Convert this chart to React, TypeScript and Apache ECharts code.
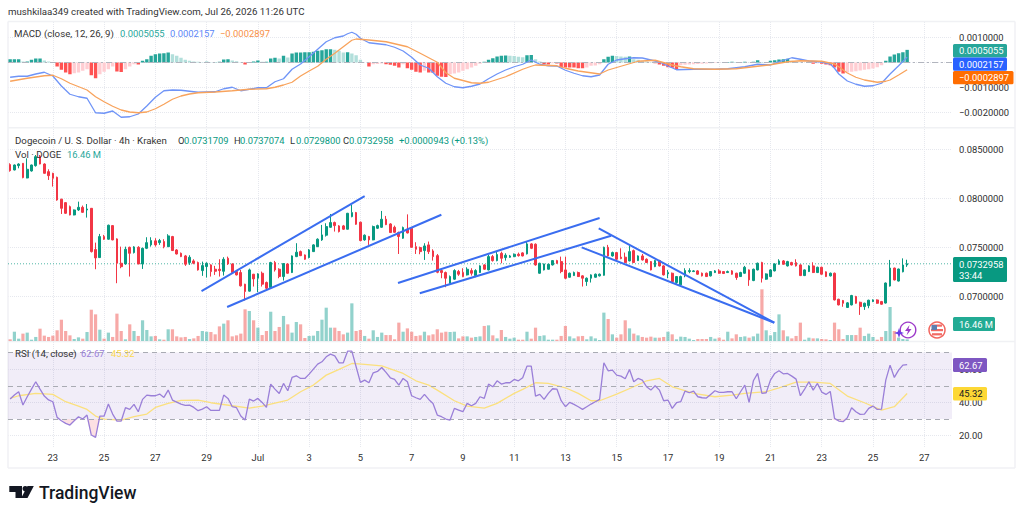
import React, { useEffect, useRef } from "react";
import * as echarts from "echarts";

const FONT = "Roboto, 'Noto Sans', sans-serif";
const PRICE_UNIT = 1e-5;
const MACD_UNIT = 1e-5;
const SLOT_COUNT = 221;

const dayLabels = ["23","25","27","29","Jul","3","5","7","9","11","13","15","17","19","21","23","25","27"];
const FIRST_LABEL_SLOT = 10;
const LABEL_STEP = 12;

// open, close, low, high in units of 0.00001 USD; one row per 4h candle
const candles = [
[8344,8282,8272,8357],[8289,8340,8285,8345],[8333,8350,8306,8357],[8357,8211,8204,8360],[8207,8296,8204,8408],[8279,8340,8272,8344],[8333,8425,8323,8442],[8432,8350,8347,8442],[8350,8255,8252,8357],[8272,8231,8187,8296],
[8255,8204,8119,8260],[8214,7982,7975,8221],[7990,7897,7839,7995],[7955,7846,7840,7960],[7914,7829,7825,7925],[7829,7880,7825,7885],[7880,7907,7870,7965],[7907,7856,7850,7925],[7880,7890,7802,7941],[7897,7454,7445,7900],
[7475,7390,7274,7546],[7393,7608,7390,7635],[7608,7581,7574,7625],[7581,7724,7575,7730],[7720,7574,7570,7725],[7584,7335,7131,7590],[7335,7300,7284,7505],[7328,7478,7320,7505],[7498,7437,7199,7505],[7444,7502,7435,7510],
[7498,7328,7325,7510],[7328,7488,7277,7495],[7488,7546,7480,7601],[7523,7567,7505,7601],[7564,7523,7505,7591],[7546,7567,7523,7584],[7557,7505,7488,7581],[7505,7615,7500,7632],[7608,7465,7460,7615],[7471,7430,7425,7480],
[7437,7403,7398,7445],[7410,7325,7308,7420],[7342,7396,7318,7417],[7359,7335,7325,7376],[7342,7267,7260,7352],[7260,7311,7206,7352],[7301,7335,7189,7345],[7318,7250,7199,7325],[7274,7253,7216,7308],[7274,7260,7199,7376],
[7253,7376,7209,7397],[7386,7328,7318,7403],[7328,7240,7226,7335],[7250,7216,7210,7255],[7240,7104,7097,7267],[7121,7046,6954,7125],[7050,7267,7045,7280],[7223,7175,7097,7226],[7182,7226,7039,7233],[7233,7121,7097,7250],
[7138,7080,7070,7148],[7087,7342,7082,7350],[7342,7267,7250,7359],[7274,7199,7182,7284],[7199,7332,7158,7335],[7328,7233,7228,7335],[7240,7410,7235,7415],[7403,7448,7398,7540],[7454,7413,7408,7465],[7420,7376,7370,7425],
[7393,7471,7385,7480],[7454,7523,7450,7530],[7505,7581,7500,7590],[7574,7625,7564,7727],[7622,7710,7608,7744],[7703,7751,7698,7839],[7751,7720,7659,7761],[7717,7659,7650,7725],[7717,7683,7675,7727],[7683,7846,7680,7850],
[7812,7853,7805,7931],[7853,7734,7728,7860],[7755,7567,7560,7760],[7574,7622,7565,7630],[7608,7574,7523,7615],[7574,7710,7570,7720],[7693,7720,7685,7730],[7703,7785,7698,7870],[7785,7730,7725,7819],[7737,7649,7645,7745],
[7703,7652,7648,7720],[7649,7608,7430,7659],[7591,7700,7585,7710],[7683,7645,7640,7835],[7693,7498,7495,7700],[7505,7478,7430,7550],[7495,7454,7427,7505],[7465,7512,7369,7540],[7523,7454,7430,7557],[7461,7403,7362,7478],
[7413,7243,7233,7430],[7260,7240,7182,7274],[7240,7182,7090,7250],[7131,7199,7125,7210],[7172,7260,7165,7274],[7250,7223,7206,7267],[7240,7199,7192,7284],[7216,7274,7210,7294],[7260,7233,7209,7284],[7209,7260,7192,7274],
[7240,7308,7235,7315],[7318,7274,7268,7325],[7267,7403,7262,7420],[7403,7362,7352,7420],[7362,7424,7355,7454],[7437,7386,7335,7454],[7393,7417,7362,7437],[7396,7410,7390,7420],[7403,7427,7398,7435],[7427,7413,7403,7444],
[7441,7410,7405,7448],[7431,7533,7425,7557],[7533,7488,7480,7540],[7530,7318,7310,7538],[7233,7335,7228,7340],[7267,7328,7262,7332],[7274,7325,7270,7330],[7318,7362,7312,7367],[7362,7335,7330,7370],[7352,7250,7233,7403],
[7267,7182,7172,7403],[7192,7233,7188,7240],[7209,7240,7205,7250],[7240,7199,7195,7250],[7206,7182,7097,7212],[7148,7182,7104,7190],[7182,7216,7138,7222],[7192,7223,7188,7230],[7206,7223,7200,7230],[7212,7498,7208,7505],
[7498,7410,7403,7523],[7410,7444,7403,7454],[7444,7376,7370,7450],[7397,7383,7376,7488],[7397,7342,7340,7444],[7359,7454,7355,7516],[7464,7342,7338,7475],[7362,7410,7358,7416],[7410,7369,7363,7430],[7376,7342,7338,7385],
[7352,7267,7262,7358],[7301,7362,7295,7368],[7362,7308,7302,7370],[7308,7216,7210,7315],[7226,7240,7182,7267],[7233,7148,7140,7240],[7138,7199,7125,7205],[7114,7199,7110,7209],[7206,7260,7192,7284],[7250,7260,7233,7284],
[7250,7257,7245,7265],[7257,7223,7218,7265],[7233,7206,7200,7240],[7233,7199,7195,7240],[7206,7250,7200,7255],[7240,7257,7235,7265],[7257,7233,7228,7274],[7250,7230,7225,7255],[7240,7250,7235,7260],[7257,7223,7218,7265],
[7233,7189,7165,7238],[7199,7240,7195,7248],[7233,7294,7228,7308],[7267,7165,7104,7272],[7158,7274,7152,7280],[7267,7335,7262,7342],[7342,7182,7138,7350],[7172,7226,7166,7232],[7199,7267,7194,7275],[7257,7328,7252,7335],
[7325,7359,7320,7376],[7359,7325,7320,7368],[7308,7352,7302,7360],[7342,7318,7312,7350],[7342,7308,7302,7376],[7318,7209,7204,7325],[7209,7267,7204,7272],[7250,7308,7245,7315],[7308,7240,7235,7345],[7240,7294,7235,7300],
[7294,7223,7218,7300],[7247,7199,7194,7252],[7206,7233,7200,7240],[7233,6960,6955,7240],[6967,6909,6904,6972],[6954,6926,6890,6960],[6883,6930,6878,6938],[6909,7005,6904,7012],[6995,6926,6921,7002],[6936,6892,6807,6942],
[6892,6926,6858,6932],[6902,6957,6875,6962],[6943,6960,6938,6966],[6960,6926,6921,6966],[6943,6916,6911,6950],[6928,7133,6923,7138],[7102,7286,7097,7369],[7286,7164,7160,7290],[7153,7276,7148,7280],[7248,7317,7242,7385],
[7317,7330,7298,7371],
];

// volume in millions of DOGE
const volumes = [
17,92,23,73,83,13,40,122,53,40,
53,106,211,99,56,20,36,23,89,310,
264,112,23,83,40,271,99,17,165,99,
50,205,109,46,50,17,13,116,116,46,
36,40,20,26,50,99,92,89,66,145,
172,205,46,56,73,314,297,205,132,59,
99,290,99,139,248,165,83,188,165,30,
50,53,99,211,330,132,132,99,66,83,
373,99,109,50,23,106,40,83,59,59,
17,182,92,125,92,50,56,92,56,66,
116,83,92,89,92,26,46,46,33,40,
46,149,155,56,26,109,40,23,33,13,
13,92,23,132,50,56,13,13,13,50,
149,46,26,46,50,17,46,26,10,281,
218,66,33,66,205,125,73,56,40,33,
43,33,33,40,92,66,17,43,40,23,
10,20,20,20,40,23,33,13,92,26,
66,40,46,33,46,73,512,106,56,89,
264,106,46,26,50,182,13,33,26,26,
20,17,10,182,116,20,59,59,59,132,
50,73,40,13,40,99,337,99,33,20,16.46,
];
const VOLUME_AXIS_MAX = 2100;

// MACD histogram, units of 0.00001
const macdHist = [
13,13,13,4,4,11,16,16,8,4,
0,-16,-29,-40,-47,-43,-40,-33,-27,-51,
-63,-47,-37,-27,-16,-36,-38,-27,-16,-7,
-8,7,13,27,33,36,37,40,33,27,
19,11,7,4,3,1,3,1,1,3,
12,13,8,5,1,-8,-1,4,8,3,
3,16,19,16,27,20,36,40,40,41,
41,43,47,49,53,53,51,47,40,41,
36,29,11,0,-16,-7,-6,-4,-7,-9,
-13,-20,-7,-23,-29,-37,-40,-33,-40,-41,
-53,-57,-58,-47,-44,-40,-33,-27,-20,-13,
-5,3,11,17,24,27,28,27,26,23,
21,29,30,13,4,-7,-8,-3,-4,-20,
-20,-20,-20,-23,-23,-20,-13,-12,-7,13,
23,27,26,24,23,24,13,11,7,4,
1,-3,-8,-13,-19,-21,-27,-11,-9,-8,
-7,-6,-5,-4,-3,-2,-1,1,2,3,
2,1,3,1,3,9,2,1,7,9,
12,13,15,7,4,1,0,-1,-5,-3,
-5,-8,-11,-20,-37,-44,-40,-37,-35,-32,
-29,-27,-24,-19,-11,7,24,32,37,41,50.55,
];

// [candle index, value in 0.00001]
const macdPoints = [
[0,-59],[2,-55],[4,-55],[6,-46],[8,-39],[10,-54],[12,-94],[14,-127],[16,-137],[18,-143],[20,-201],[22,-203],[24,-194],[26,-219],[28,-217],[30,-206],[32,-174],[34,-139],[36,-113],[38,-110],[40,-111],[42,-115],[44,-119],[46,-118],[48,-117],[50,-105],[52,-99],[54,-113],[56,-107],[58,-101],[60,-101],[62,-77],[64,-65],[66,-27],[68,-6],[70,23],[72,53],[74,83],[76,99],[78,106],[79,115],[80,121],[81,113],[82,97],[84,79],[86,75],[88,71],[90,61],[92,46],[94,21],[96,-10],[98,-23],[100,-57],[102,-83],[104,-97],[106,-101],[108,-95],[110,-86],[112,-65],[114,-46],[116,-30],[118,-17],[120,-7],[122,10],[124,-7],[126,-13],[128,-14],[130,-31],[132,-43],[134,-53],[136,-57],[138,-50],[140,-7],[142,10],[144,15],[146,19],[148,18],[150,10],[152,2],[154,-14],[156,-29],[160,-27],[165,-27],[168,-25],[172,-17],[175,-7],[178,-10],[180,3],[183,19],[185,13],[187,6],[190,2],[192,-6],[193,-23],[194,-46],[196,-74],[198,-87],[200,-95],[202,-93],[204,-83],[206,-46],[208,-13],[210,21.57],
];
const signalPoints = [
[0,-75],[4,-63],[8,-53],[10,-51],[12,-65],[14,-83],[18,-110],[20,-137],[22,-157],[24,-175],[26,-190],[28,-198],[30,-201],[32,-198],[34,-185],[36,-167],[38,-147],[40,-134],[42,-126],[44,-121],[48,-118],[52,-113],[56,-107],[60,-105],[62,-99],[64,-90],[66,-79],[68,-54],[70,-34],[72,-15],[74,13],[76,37],[78,63],[80,89],[81,94],[84,90],[88,83],[93,63],[96,37],[100,1],[102,-41],[104,-63],[108,-81],[110,-83],[112,-79],[116,-57],[120,-27],[122,-15],[123,-10],[128,-13],[130,-23],[133,-34],[138,-46],[140,-30],[144,-10],[147,5],[151,9],[155,-10],[157,-17],[160,-25],[165,-27],[170,-25],[175,-15],[178,-9],[182,3],[185,7],[190,5],[193,-6],[194,-17],[196,-42],[198,-59],[200,-70],[203,-79],[205,-75],[206,-70],[208,-50],[210,-28.97],
];

const rsiValues = [
42,44.4,46.4,38.4,43.4,48,52.4,48,43.8,41.5,
40.4,31,29,27.4,26.4,29,31.4,30,32.4,20.4,
19,31.8,31.8,39,33,28.8,28.8,36.8,35.8,38.8,
34.4,41.8,44.4,44,44,45,43,47.4,41.4,40.2,
39,38.2,38.4,37,35,36,37.4,35.2,35.2,35.2,
44.4,42.4,37.4,36.8,31.8,29.4,42,40.8,42.4,40,
37,51,48,45.4,51.4,47,55,56,54.4,54.4,
57,60,63,64.4,67.4,69,68,63.8,63.8,70.8,
70.8,61.4,52,53.4,51.8,57.8,58.6,61,58,54.8,
53.8,50.4,54.4,52.4,44,42.8,41.8,44.8,41.8,39.4,
32.4,31.4,30,29.4,36.4,35.4,34.4,39.4,38,39.4,
43.4,42.4,51,49.4,53,51,51.8,51.8,53.8,53,
54.8,61.8,61.8,43.8,44.8,41.8,45.4,48.2,48,41,
37.4,40,38.8,37.4,35.8,37.4,39,40.4,41.8,63.8,
59,59.4,56.4,55.8,54.2,59.8,52.4,54.4,53.4,49.4,
47.4,50,47.4,41,41.4,36.4,39.8,40.4,46.8,45.8,
46.8,43.4,42.8,42.6,44.8,47,46,46,46.4,46.4,
42.2,46.4,50.4,40,53,57.4,45.4,45.8,53.4,57.4,
59,57.2,57.4,55.8,54,44,48,52.4,47.4,51.4,
46.2,44.8,46.6,30.4,28.8,28.4,30.8,36.8,34.4,32.8,
33,36.4,37.8,35.8,36,53.4,62.4,55,59.4,62.4,62.67,
];
const rsiMaPoints = [
[0,42.4],[2,44],[6,45.4],[10,44.8],[13,40.4],[16,37.8],[18,35.8],[20,31.8],[22,30],[26,29.4],[29,31.4],[32,33],[34,37],[37,39.4],[40,41.2],[44,41.4],[47,39.8],[52,38],[56,36.6],[59,37.8],[65,41.4],[68,46.4],[71,50.4],[74,56.4],[77,59.8],[80,63.4],[83,62.8],[87,62],[92,57.4],[95,53],[98,50.4],[100,47.4],[104,41],[107,37.8],[111,36.6],[114,39.4],[118,45.4],[120,47.8],[123,51.8],[126,51.4],[130,48.8],[133,45.4],[136,41],[138,41],[142,45],[146,49.4],[149,53],[152,54.4],[155,49.4],[157,47.8],[160,45.4],[165,43.4],[169,44.4],[172,45.4],[177,46.4],[180,48.8],[184,52.2],[188,52.2],[192,51.4],[196,43.8],[200,39.8],[204,35.4],[207,37.4],[210,45.32],
];
const rsiDips = [
[[12,30],[13,27.4],[14,26.4],[15,29],[16,30]],
[[18,30],[19,20.4],[20,19],[21,30]],
[[192,30],[194,28.8],[195,28.4],[196,30]],
];

// trend lines drawn on the chart: [candle position, price]
const trendLines = [
[[44.8,0.07051],[83.0,0.08022]],
[[50.8,0.06888],[100.95,0.07831]],
[[90.8,0.07133],[138,0.07798]],
[[95.9,0.07028],[140.7,0.07617]],
[[137.8,0.07692],[178.9,0.06727]],
[[133.8,0.07498],[178.9,0.06727]],
];

const LAST_PRICE = 0.0732958;
const macdTicks = [0.001, 0, -0.001, -0.002];
const macdLabels = [0.001, -0.001, -0.002];
const priceTicks = [0.07, 0.075, 0.08, 0.085];
const rsiTicks = [20, 40, 60, 80];
const rsiLabels = [20, 40, 60];

const UP = "#089981";
const DOWN = "#f23645";
const GRID = "#e6e8ee";
const NUM = 9.4;
const TXT = 9.7;

const isLabelSlot = (i: number) => i >= FIRST_LABEL_SLOT && (i - FIRST_LABEL_SLOT) % LABEL_STEP === 0;

function histColor(v: number, i: number) {
  const p = i > 0 ? macdHist[i - 1] : 0;
  if (v >= 0) return v >= p ? "#26a69a" : "#b2dfdb";
  return v <= p ? "#ff5252" : "#ffcdd2";
}

const txt = (x: number, y: number, text: string, fill: string, size = NUM, weight: any = "normal", align = "left") => ({
  type: "text",
  z: 100,
  silent: true,
  style: { x, y, text, fill, fontFamily: FONT, fontSize: size, fontWeight: weight, align, verticalAlign: "middle" },
});
const tag = (x: number, y: number, w: number, h: number, fill: string) => ({
  type: "rect", z: 99, silent: true, shape: { x, y, width: w, height: h, r: 1.5 }, style: { fill },
});
const hline = (x1: number, y1: number, x2: number, y2: number) => ({
  type: "line", z: 1, silent: true, shape: { x1, y1, x2, y2 }, style: { stroke: "#f0f1f4", lineWidth: 1.5 },
});

function buildOption(): any {
  const categories = Array.from({ length: SLOT_COUNT }, (_, i) => String(i));
  const xBase = (gridIndex: number, showLabel: boolean) => ({
    type: "category",
    gridIndex,
    data: categories,
    boundaryGap: true,
    axisLine: { show: false },
    axisTick: { show: false },
    axisLabel: {
      show: showLabel,
      interval: (i: number) => isLabelSlot(i),
      formatter: (v: string) => dayLabels[(Number(v) - FIRST_LABEL_SLOT) / LABEL_STEP] ?? "",
      color: "#2e2e2e",
      fontFamily: FONT,
      fontSize: NUM,
      margin: 6,
    },
    splitLine: {
      show: true,
      alignWithLabel: true,
      interval: (i: number) => isLabelSlot(i),
      lineStyle: { color: GRID, type: "dotted" },
    },
  });
  const yBase = (gridIndex: number, min: number, max: number, ticks: number[], labels: number[], fmt: (v: number) => string) => ({
    type: "value",
    gridIndex,
    position: "right",
    min,
    max,
    axisLine: { show: false },
    axisTick: { show: false, customValues: ticks },
    axisLabel: { customValues: labels, formatter: fmt, color: "#2e2e2e", fontFamily: FONT, fontSize: NUM, margin: 7 },
    splitLine: { show: true, lineStyle: { color: GRID, type: "dotted" } },
  });
  const dec7 = (v: number) => (v < 0 ? "\u2212" : "") + Math.abs(v).toFixed(7);

  const series: any[] = [
    {
      type: "bar", name: "Histogram", xAxisIndex: 0, yAxisIndex: 0, barWidth: 3.4,
      data: macdHist.map((v, i) => ({ value: v * MACD_UNIT, itemStyle: { color: histColor(v, i) } })),
      markLine: {
        silent: true, symbol: "none", label: { show: false },
        lineStyle: { color: "#b2b5be", type: [6, 3, 2, 3], width: 1 },
        data: [{ yAxis: 0 }],
      },
    },
    {
      type: "line", name: "MACD", xAxisIndex: 0, yAxisIndex: 0, showSymbol: false, z: 5,
      lineStyle: { color: "#6f94f7", width: 1.3 },
      data: macdPoints.map(([i, v]) => [i, v * MACD_UNIT]),
    },
    {
      type: "line", name: "Signal", xAxisIndex: 0, yAxisIndex: 0, showSymbol: false, z: 5,
      lineStyle: { color: "#f8a35c", width: 1.3 },
      data: signalPoints.map(([i, v]) => [i, v * MACD_UNIT]),
    },
    {
      type: "bar", name: "Volume", xAxisIndex: 1, yAxisIndex: 2, barWidth: 3.2, z: 1,
      data: volumes.map((v, i) => ({
        value: v,
        itemStyle: { color: candles[i][1] >= candles[i][0] ? "rgba(38,166,154,0.5)" : "rgba(239,83,80,0.5)" },
      })),
    },
    {
      type: "line", name: "Last price", xAxisIndex: 3, yAxisIndex: 1, showSymbol: false, z: 2,
      lineStyle: { color: "#089981", type: [1, 2], width: 1, opacity: 0.7 },
      data: [[-0.5, LAST_PRICE], [SLOT_COUNT - 0.5, LAST_PRICE]],
    },
    {
      type: "candlestick", name: "DOGEUSD", xAxisIndex: 1, yAxisIndex: 1, barWidth: 2.2, z: 3,
      itemStyle: { color: UP, color0: DOWN, borderColor: UP, borderColor0: DOWN, borderWidth: 1 },
      data: candles.map((c) => c.map((v) => v * PRICE_UNIT)),
    },
    ...trendLines.map((t, k) => ({
      type: "line", name: "Trend " + (k + 1), xAxisIndex: 3, yAxisIndex: 1, showSymbol: false, z: 6,
      lineStyle: { color: "#3a6df0", width: 2 },
      data: t,
    })),
    ...rsiDips.map((d, k) => ({
      type: "line", name: "Oversold " + (k + 1), xAxisIndex: 2, yAxisIndex: 3, showSymbol: false, z: 2,
      lineStyle: { width: 0 },
      areaStyle: { origin: 30, color: "rgba(242,54,69,0.22)" },
      data: d,
    })),
    {
      type: "line", name: "RSI", xAxisIndex: 2, yAxisIndex: 3, showSymbol: false, z: 5,
      lineStyle: { color: "#9a7fd8", width: 1.3 },
      data: rsiValues,
      markArea: { silent: true, itemStyle: { color: "rgba(126,87,194,0.11)" }, data: [[{ yAxis: 30 }, { yAxis: 70 }]] },
      markLine: {
        silent: true, symbol: "none", label: { show: false },
        lineStyle: { color: "#a9abb3", type: [5, 4], width: 1 },
        data: [{ yAxis: 70 }, { yAxis: 50 }, { yAxis: 30 }],
      },
    },
    {
      type: "line", name: "RSI MA", xAxisIndex: 2, yAxisIndex: 3, showSymbol: false, z: 4,
      lineStyle: { color: "#fbe07e", width: 1.3 },
      data: rsiMaPoints,
    },
  ];

  const graphic: any[] = [
    hline(8, 21.5, 1015, 21.5), hline(8, 127.8, 1015, 127.8), hline(8, 341.5, 1015, 341.5), hline(8, 468, 1015, 468),
    hline(8, 21.5, 8, 468), hline(1015, 21.5, 1015, 468),
    txt(8, 11.5, "mushkilaa349 created with TradingView.com, Jul 26, 2026 11:26 UTC", "#333333", TXT),
    txt(14, 33, "MACD (close, 12, 26, 9)", "#333333", TXT),
    txt(120, 33, "0.0005055", "#26a69a"),
    txt(170, 33, "0.0002157", "#5b86f7"),
    txt(220, 33, "\u22120.0002897", "#f79046"),
    txt(15, 140, "Dogecoin / U. S. Dollar \u00b7 4h \u00b7 Kraken", "#333333", TXT),
    txt(178, 140, "O", "#333333"), txt(184, 140, "0.0731709", UP),
    txt(234, 140, "H", "#333333"), txt(240, 140, "0.0737074", UP),
    txt(290, 140, "L", "#333333"), txt(296, 140, "0.0729800", UP),
    txt(343, 140, "C", "#333333"), txt(349, 140, "0.0732958", UP),
    txt(399, 140, "+0.0000943 (+0.13%)", UP),
    txt(15, 154, "Vol \u00b7 DOGE", "#333333", TXT),
    txt(67, 154, "16.46 M", "#26a69a"),
    txt(15, 353, "RSI (14, close)", "#333333", TXT),
    txt(81, 353, "62.67", "#9a7fd8"),
    txt(111, 353, "45.32", "#fbd94f"),
    tag(953, 44, 54, 13.5, "#26a69a"), txt(959, 50.8, "0.0005055", "#ffffff"),
    tag(953, 57.5, 54, 13.2, "#2962ff"), txt(959, 64.2, "0.0002157", "#ffffff"),
    tag(953, 71, 60.5, 13.2, "#ff6d00"), txt(959, 77.6, "\u22120.0002897", "#ffffff"),
    tag(953, 257, 54, 25, UP), txt(959, 264, "0.0732958", "#ffffff"), txt(959, 275.5, "33:44", "#ffffff"),
    tag(953, 317, 42, 14, "#22ab94"), txt(959, 324, "16.46 M", "#ffffff"),
    tag(953, 358, 34, 14, "#7e57c2"), txt(959, 365, "62.67", "#ffffff"),
    tag(953, 387, 34, 13.5, "#fdd835"), txt(959, 393.8, "45.32", "#131722"),
    // TradingView logo
    { type: "polygon", z: 100, silent: true, shape: { points: [[9.3,486],[22,486],[22,498],[15.5,498],[15.5,492],[9.3,492]] }, style: { fill: "#131722" } },
    { type: "circle", z: 100, silent: true, shape: { cx: 25.2, cy: 488.7, r: 2.7 }, style: { fill: "#131722" } },
    { type: "polygon", z: 100, silent: true, shape: { points: [[27.5,486],[33.8,486],[27.5,498],[21.2,498]] }, style: { fill: "#131722" } },
    txt(39, 493, "TradingView", "#131722", 17.5, 500),
    // bottom icons
    { type: "circle", z: 100, silent: true, shape: { cx: 908, cy: 330, r: 7.8 }, style: { fill: "rgba(255,255,255,0.85)", stroke: "#9c39c9", lineWidth: 1.4 } },
    { type: "polygon", z: 101, silent: true, shape: { points: [[909.5,325],[905,331],[908,331],[906.5,335.5],[911.5,329],[908.5,329]] }, style: { fill: "#9c39c9" } },
    { type: "polygon", z: 101, silent: true, shape: { points: [[899,328],[900.2,331.8],[904,333],[900.2,334.2],[899,338],[897.8,334.2],[894,333],[897.8,331.8]] }, style: { fill: "#6a3de8" } },
    { type: "circle", z: 100, silent: true, shape: { cx: 937, cy: 330, r: 8 }, style: { fill: "#fff", stroke: "#f2665f", lineWidth: 1.5 } },
    { type: "rect", z: 101, silent: true, shape: { x: 932, y: 324.5, width: 10, height: 2.2 }, style: { fill: "#f26a64" } },
    { type: "rect", z: 101, silent: true, shape: { x: 931, y: 329, width: 12, height: 2.2 }, style: { fill: "#f26a64" } },
    { type: "rect", z: 101, silent: true, shape: { x: 932, y: 333.2, width: 10, height: 2.2 }, style: { fill: "#f26a64" } },
    { type: "rect", z: 102, silent: true, shape: { x: 931.5, y: 325, width: 5.5, height: 5 }, style: { fill: "#5d7fb0" } },
  ];

  return {
    animation: false,
    backgroundColor: "#ffffff",
    textStyle: { fontFamily: FONT },
    grid: [
      { left: 8, right: 72, top: 22, height: 105.5 },
      { left: 8, right: 72, top: 129, height: 212 },
      { left: 8, right: 72, top: 342, height: 105 },
    ],
    xAxis: [
      xBase(0, false),
      xBase(1, false),
      xBase(2, true),
      { type: "value", gridIndex: 1, min: -0.5, max: SLOT_COUNT - 0.5, show: false },
    ],
    yAxis: [
      yBase(0, -0.0026, 0.00162, macdTicks, macdLabels, dec7),
      yBase(1, 0.0654, 0.08708, priceTicks, priceTicks, (v) => v.toFixed(7)),
      { type: "value", gridIndex: 1, min: 0, max: VOLUME_AXIS_MAX, show: false, splitLine: { show: false } },
      yBase(2, 13.2, 76.3, rsiTicks, rsiLabels, (v) => v.toFixed(2)),
    ],
    series,
    graphic,
  };
}

export default function App() {
  const ref = useRef<HTMLDivElement>(null);
  useEffect(() => {
    const chart = echarts.init(ref.current!, undefined, { renderer: "svg" });
    chart.setOption(buildOption());
    return () => chart.dispose();
  }, []);
  return <div ref={ref} style={{ position: "absolute", left: 0, top: 0, width: 1024, height: 517 }} />;
}
